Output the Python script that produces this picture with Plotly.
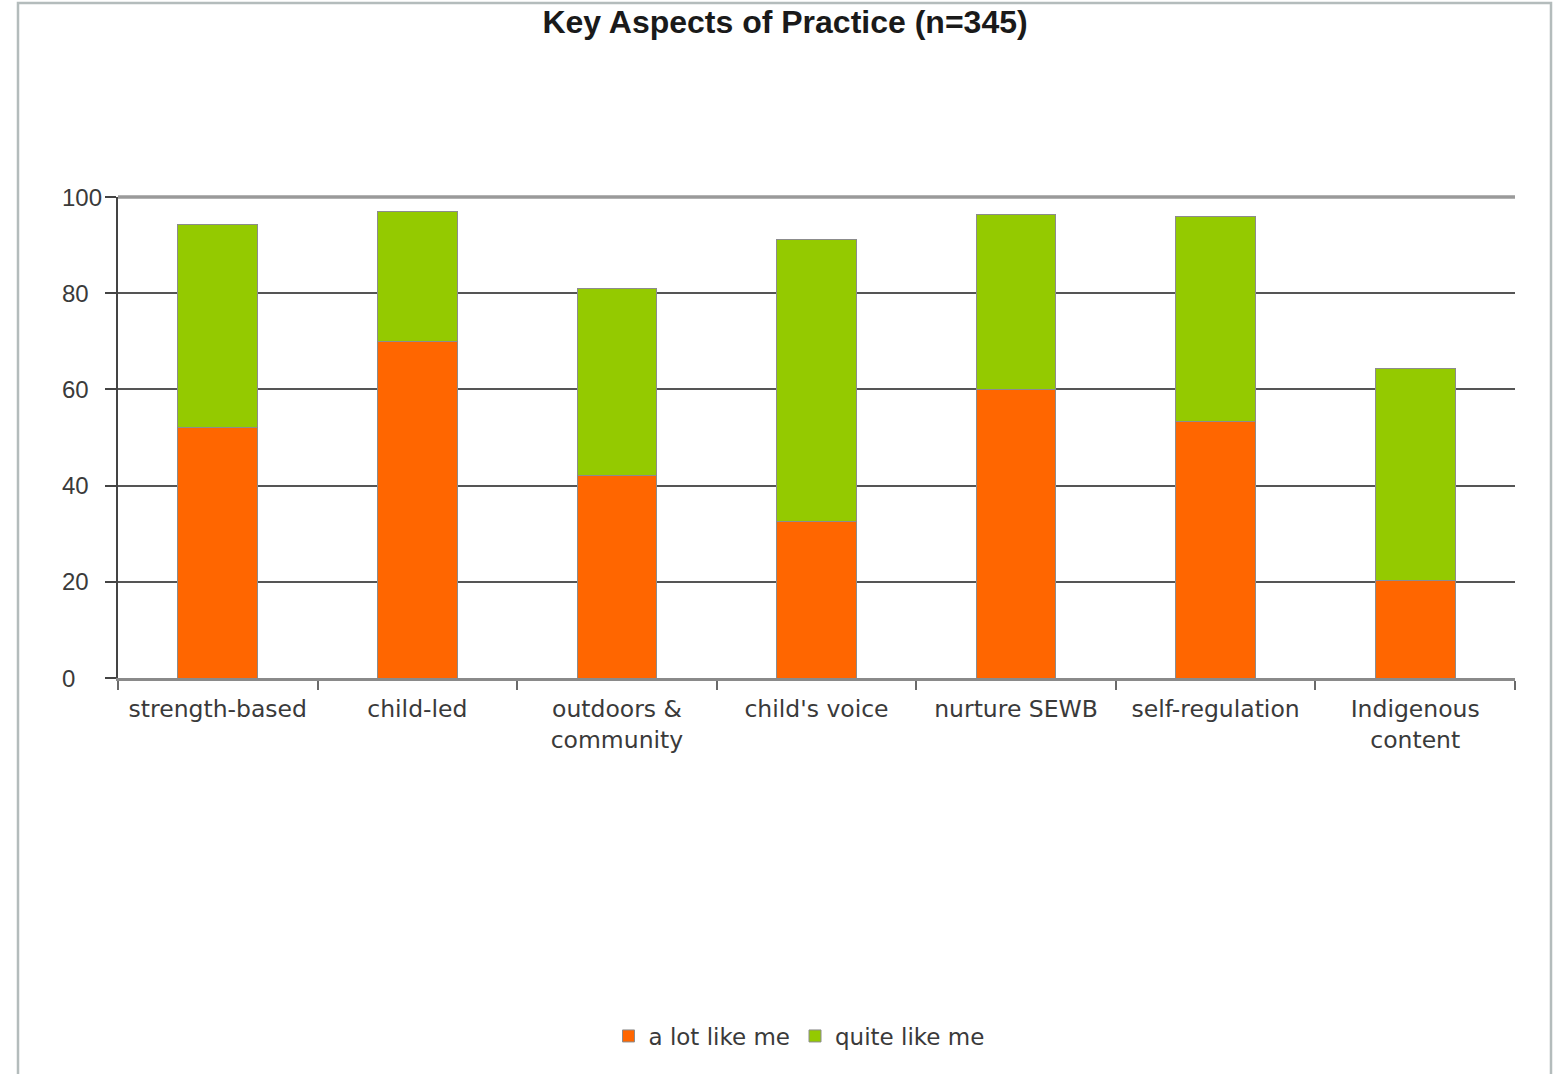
import plotly.graph_objects as go

# Survey categories (two-line labels where the text wraps)
categories = [
    "strength-based",
    "child-led",
    "outdoors &<br>community",
    "child's voice",
    "nurture SEWB",
    "self-regulation",
    "Indigenous<br>content",
]

# Percent of respondents per response level
a_lot_like_me = [52.0, 70.0, 42.0, 32.5, 60.0, 53.3, 20.2]
quite_like_me = [42.2, 26.9, 38.9, 58.6, 36.4, 42.6, 44.2]

y_ticks = [0, 20, 40, 60, 80, 100]

ORANGE = "#FF6600"
GREEN = "#94CA00"
OUTLINE = "#8c8c8c"

fig = go.Figure()
fig.add_trace(go.Bar(
    x=categories, y=a_lot_like_me, name="a lot like me",
    marker=dict(color=ORANGE, line=dict(color=OUTLINE, width=1)),
))
fig.add_trace(go.Bar(
    x=categories, y=quite_like_me, name="quite like me",
    marker=dict(color=GREEN, line=dict(color=OUTLINE, width=1)),
))

# y tick labels are left-aligned in a column beside the axis
annotations = [
    dict(x=0, xref="paper", y=v, yref="y", xshift=-58, xanchor="left",
         yanchor="middle", text=str(v), showarrow=False,
         font=dict(family="Liberation Sans, Arial", size=24, color="#3a3a3a"))
    for v in y_ticks
]

shapes = [
    # heavier light-grey line along the top of the scale
    dict(type="line", xref="paper", yref="paper", x0=0, x1=1, y0=1, y1=1,
         line=dict(color="#9a9a9a", width=3.5), layer="above"),
    # outer frame around the chart
    dict(type="rect", xref="paper", yref="paper",
         x0=(18 - 118) / 1397, x1=(1551 - 118) / 1397,
         y0=-0.9, y1=(678 - 3) / 481,
         line=dict(color="#b4bcbc", width=2.5), layer="below"),
]

fig.update_layout(
    width=1553, height=1074,
    margin=dict(l=118, r=38, t=197, b=396),
    paper_bgcolor="white", plot_bgcolor="white",
    barmode="stack", bargap=0.6,
    title=dict(
        text="<b>Key Aspects of Practice (n=345)</b>",
        x=785 / 1553, xanchor="center", xref="container",
        y=1 - 22 / 1074, yanchor="middle", yref="container",
        font=dict(family="Liberation Sans, Arial", size=32, color="#1a1a1a"),
    ),
    xaxis=dict(
        type="category",
        showline=True, linecolor="#8a8a8a", linewidth=2.5,
        ticks="outside", tickson="boundaries", ticklen=9, tickwidth=1.5,
        tickcolor="#6a6a6a", showgrid=False, ticklabelstandoff=8,
        tickfont=dict(family="DejaVu Sans", size=23.5, color="#3a3a3a"),
        fixedrange=True,
    ),
    yaxis=dict(
        range=[0, 100], tickvals=y_ticks, showticklabels=False,
        showline=True, linecolor="#444444", linewidth=1.5,
        ticks="outside", ticklen=11, tickwidth=1.5, tickcolor="#444444",
        showgrid=True, gridcolor="#555555", gridwidth=1.5,
        zeroline=False, fixedrange=True,
    ),
    legend=dict(
        orientation="h", x=(799 - 118) / 1397, xanchor="center",
        y=(678 - 1036) / 481, yanchor="middle",
        font=dict(family="DejaVu Sans", size=23, color="#3a3a3a"),
        traceorder="normal", itemwidth=30,
    ),
    annotations=annotations,
    shapes=shapes,
    showlegend=True,
)

fig.write_html("out.html")
